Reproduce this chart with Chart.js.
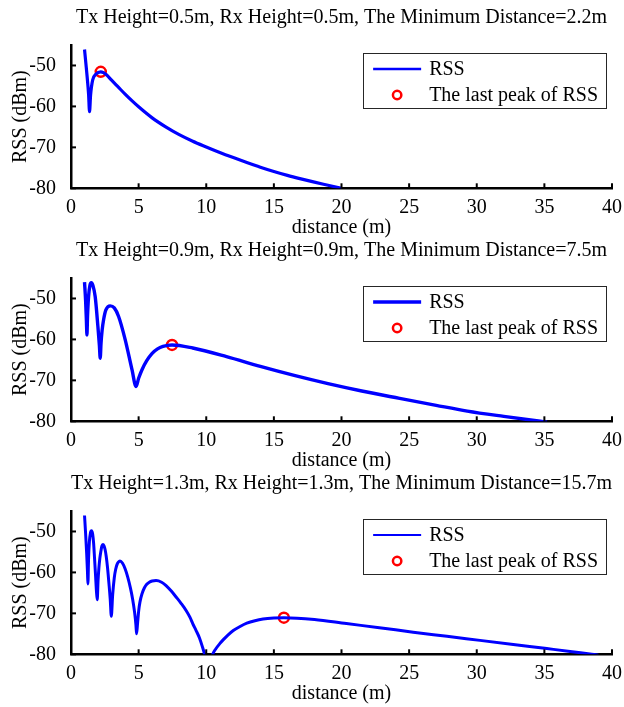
<!DOCTYPE html>
<html><head><meta charset="utf-8">
<script src="https://cdn.jsdelivr.net/npm/chart.js@4.4.1/dist/chart.umd.min.js"></script>
<style>
html,body{margin:0;padding:0;background:#fff;width:624px;height:707px;overflow:hidden;position:relative;}
.wrap{position:absolute;left:0;width:624px;height:250px;}
canvas{display:block;}
</style></head><body>
<div class="wrap" style="top:0px"><canvas id="c1" width="624" height="250"></canvas></div>
<div class="wrap" style="top:233px"><canvas id="c2" width="624" height="250"></canvas></div>
<div class="wrap" style="top:466px"><canvas id="c3" width="624" height="250"></canvas></div>
<script>
// ---- data ----
const xTicks = [0, 5, 10, 15, 20, 25, 30, 35, 40];
const yTicks = [-80, -70, -60, -50];
const titles = [
  'Tx Height=0.5m, Rx Height=0.5m, The Minimum Distance=2.2m',
  'Tx Height=0.9m, Rx Height=0.9m, The Minimum Distance=7.5m',
  'Tx Height=1.3m, Rx Height=1.3m, The Minimum Distance=15.7m'
];
const legendLabels = ['RSS', 'The last peak of RSS'];
const xLabel = 'distance (m)';
const yLabel = 'RSS (dBm)';

const dist1 = [1.0, 1.1, 1.2, 1.3, 1.37, 1.45, 1.6, 1.85, 2.2, 2.4, 2.6, 3.0, 3.5, 4.0, 4.5, 5.0, 6.0, 7.0, 8.0, 9.0, 10.0, 11.0, 12.0, 13.0, 14.0, 15.0, 16.0, 17.0, 18.0, 19.0, 20.0];
const rss1  = [-46.1, -49.5, -53.0, -57.0, -61.3, -57.2, -53.6, -52.1, -51.55, -51.75, -52.2, -53.6, -55.3, -57.0, -58.6, -60.1, -62.8, -65.0, -66.9, -68.5, -69.9, -71.25, -72.5, -73.7, -74.85, -75.9, -76.85, -77.7, -78.5, -79.25, -80.0];

const dist2 = [1.0, 1.08, 1.14, 1.18, 1.22, 1.3, 1.4, 1.5, 1.62, 1.79, 1.99, 2.1, 2.16, 2.22, 2.3, 2.41, 2.58, 2.9, 3.2, 3.52, 4.01, 4.51, 4.81, 5.0, 5.25, 5.6, 6.0, 6.4, 6.8, 7.47, 9.0, 11.5, 14.0, 16.5, 19.0, 21.5, 24.3, 27.0, 29.3, 32.0, 34.7, 35.2];
const rss2  = [-46.0, -50.5, -55.5, -58.9, -54.5, -49.5, -46.8, -46.15, -46.8, -49.6, -56.9, -61.5, -64.6, -61.0, -57.8, -55.2, -52.8, -51.8, -52.3, -54.4, -60.1, -67.4, -71.5, -69.5, -67.4, -65.2, -63.4, -62.3, -61.7, -61.35, -62.1, -64.2, -66.6, -68.8, -70.8, -72.6, -74.4, -76.1, -77.5, -78.8, -80.0, -80.2];

const dist3 = [1.0, 1.08, 1.16, 1.22, 1.25, 1.3, 1.36, 1.44, 1.52, 1.6, 1.67, 1.74, 1.82, 1.88, 1.94, 2.0, 2.06, 2.13, 2.2, 2.28, 2.36, 2.44, 2.52, 2.6, 2.7, 2.8, 2.9, 2.98, 3.08, 3.2, 3.3, 3.4, 3.5, 3.62, 3.8, 4.0, 4.19, 4.4, 4.56, 4.7, 4.8, 4.85, 4.92, 5.0, 5.1, 5.25, 5.42, 5.6, 5.79, 6.0, 6.29, 6.7, 7.03, 7.4, 7.77, 8.15, 8.51, 8.8, 9.0, 9.25, 9.5, 9.7, 9.87, 10.0, 10.2, 10.3, 10.4, 10.48, 10.7, 11.0, 11.3, 11.6, 12.0, 12.5, 13.0, 13.6, 14.2, 15.0, 15.74, 18.0, 20.36, 22.8, 25.3, 27.8, 30.24, 32.7, 35.18, 36.9, 38.5, 39.0];
const rss3  = [-46.1, -50.5, -55.5, -60.0, -62.8, -56.5, -52.5, -50.3, -49.8, -50.6, -52.8, -56.5, -61.0, -64.5, -66.7, -62.0, -59.0, -56.6, -55.0, -53.6, -53.2, -53.5, -54.4, -56.0, -58.8, -62.5, -66.5, -70.7, -65.5, -61.3, -59.3, -58.1, -57.5, -57.2, -57.7, -59.1, -61.1, -63.9, -66.6, -69.7, -72.8, -75.0, -72.5, -69.5, -67.2, -65.2, -63.8, -62.9, -62.4, -62.1, -62.0, -62.4, -63.2, -64.5, -66.0, -67.6, -69.3, -71.0, -72.5, -74.2, -76.0, -78.0, -80.0, -82.5, -85.0, -83.0, -81.3, -80.0, -78.7, -77.4, -76.3, -75.3, -74.2, -73.2, -72.4, -71.8, -71.4, -71.15, -71.05, -71.5, -72.5, -73.5, -74.6, -75.6, -76.6, -77.6, -78.6, -79.3, -80.0, -80.2];

const peakDist = [2.2, 7.47, 15.74];
const peakRss  = [-51.55, -61.35, -71.05];

// ---- styling ----
const FONT = "'Liberation Serif','Times New Roman',Times,serif";
Chart.defaults.font.family = FONT;
Chart.defaults.font.size = 20;
Chart.defaults.color = '#000';

const inwardTicks = {
  id: 'inwardTicks',
  afterDraw(chart) {
    const {ctx, chartArea: a, scales: {x, y}} = chart;
    ctx.save();
    ctx.strokeStyle = '#000';
    ctx.lineWidth = 2;
    x.ticks.forEach(t => {
      const px = x.getPixelForValue(t.value);
      ctx.beginPath(); ctx.moveTo(px, a.bottom); ctx.lineTo(px, a.bottom - 5); ctx.stroke();
    });
    y.ticks.forEach(t => {
      const py = y.getPixelForValue(t.value);
      ctx.beginPath(); ctx.moveTo(a.left, py); ctx.lineTo(a.left + 5, py); ctx.stroke();
    });
    ctx.restore();
  }
};

const boxLegend = {
  id: 'boxLegend',
  afterDraw(chart, args, opts) {
    const {ctx, chartArea: a} = chart;
    const ds = chart.data.datasets;
    ctx.save();
    ctx.font = '20px ' + FONT;
    const tw = Math.max(...ds.map(d => ctx.measureText(d.label).width));
    const w = 65 + tw + 9, h = 55;
    const bx = a.right - 6 - w, by = a.top + 8;
    ctx.fillStyle = '#fff';
    ctx.fillRect(bx, by, w, h);
    ctx.strokeStyle = '#262626';
    ctx.lineWidth = 1;
    ctx.strokeRect(Math.round(bx) + 0.5, Math.round(by) + 0.5, Math.round(w), Math.round(h));
    const r1 = by + 16, r2 = by + 42;
    ctx.strokeStyle = ds[0].borderColor;
    ctx.lineWidth = opts.lineW;
    ctx.beginPath(); ctx.moveTo(bx + 10, r1); ctx.lineTo(bx + 58, r1); ctx.stroke();
    ctx.strokeStyle = ds[1].pointBorderColor;
    ctx.lineWidth = 2.5;
    ctx.beginPath(); ctx.arc(bx + 34, r2, 4.2, 0, Math.PI * 2); ctx.stroke();
    ctx.fillStyle = '#000';
    ctx.textBaseline = 'middle';
    ctx.textAlign = 'left';
    ctx.fillText(ds[0].label, bx + 66, r1 + 1);
    ctx.fillText(ds[1].label, bx + 66, r2 + 1);
    ctx.restore();
  }
};

function makeChart(id, title, dist, rss, k, lineW, legendLineW) {
  return new Chart(document.getElementById(id), {
    type: 'line',
    data: {
      datasets: [
        {
          label: legendLabels[0],
          data: dist.map((d, i) => ({x: d, y: rss[i]})),
          borderColor: '#0000ff',
          borderWidth: lineW,
          pointRadius: 0,
          cubicInterpolationMode: 'monotone',
          fill: false
        },
        {
          label: legendLabels[1],
          data: [{x: peakDist[k], y: peakRss[k]}],
          showLine: false,
          pointRadius: 5,
          pointBorderWidth: 2.5,
          pointBorderColor: '#ff0000',
          pointBackgroundColor: 'rgba(0,0,0,0)',
          borderColor: '#ff0000'
        }
      ]
    },
    options: {
      responsive: false,
      animation: false,
      devicePixelRatio: 1,
      layout: {padding: {left: 0, right: 12, top: 0, bottom: 0}},
      scales: {
        x: {
          type: 'linear', min: 0, max: 40,
          afterBuildTicks: s => { s.ticks = xTicks.map(v => ({value: v})); },
          afterFit: s => { s.height = 61.7; },
          grid: {display: false},
          border: {display: true, color: '#000', width: 2.5},
          ticks: {padding: -1, color: '#000', maxRotation: 0, autoSkip: false},
          title: {display: true, text: xLabel, color: '#000', padding: {top: 0, bottom: 10}}
        },
        y: {
          type: 'linear', min: -80, max: -45,
          afterBuildTicks: s => { s.ticks = yTicks.map(v => ({value: v})); },
          afterFit: s => { s.width = 71; },
          grid: {display: false},
          border: {display: true, color: '#000', width: 2.5},
          ticks: {padding: 7, color: '#000'},
          title: {display: true, text: yLabel, color: '#000', padding: {top: 9, bottom: 0}}
        }
      },
      plugins: {
        legend: {display: false},
        tooltip: {enabled: false},
        title: {
          display: true, text: title, fullSize: false, color: '#000',
          font: {size: 20, weight: 'normal'},
          padding: {top: 6, bottom: 15}
        },
        boxLegend: {lineW: legendLineW}
      }
    },
    plugins: [inwardTicks, boxLegend]
  });
}

makeChart('c1', titles[0], dist1, rss1, 0, 3.2, 2.5);
makeChart('c2', titles[1], dist2, rss2, 1, 3.4, 3.5);
makeChart('c3', titles[2], dist3, rss3, 2, 3.0, 2);
</script>
</body></html>
